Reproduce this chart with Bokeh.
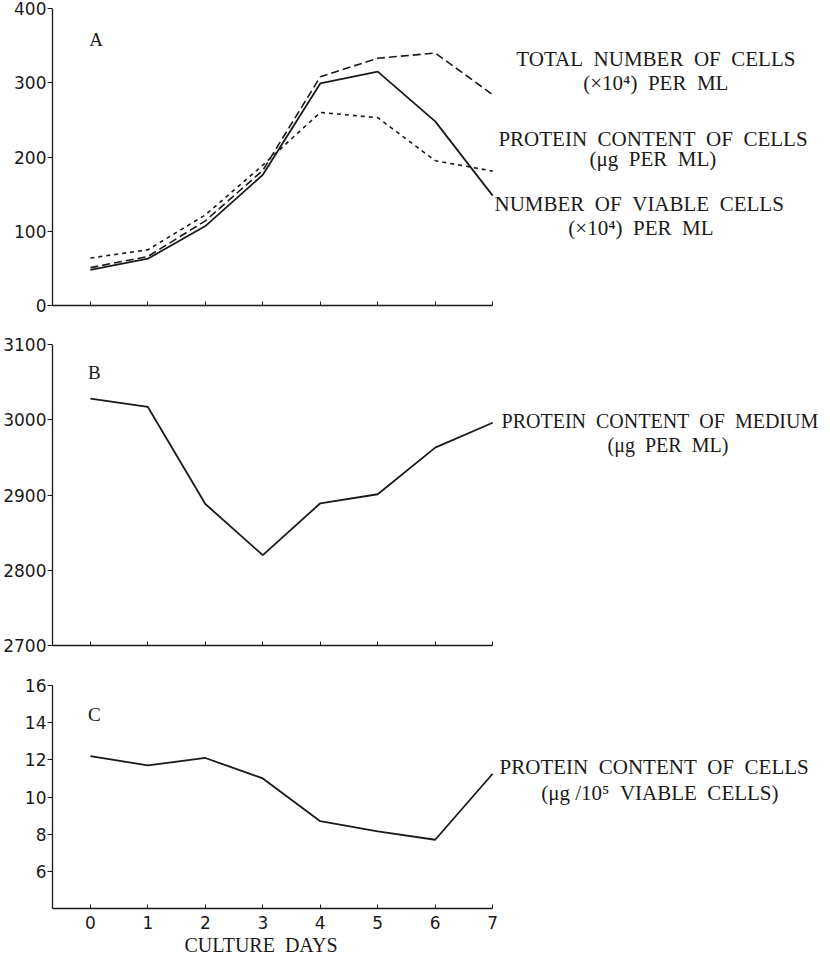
from bokeh.plotting import figure
from bokeh.models import Range1d, FixedTicker, Title
from bokeh.layouts import column
from bokeh.core.properties import value
from bokeh.embed import file_html
from bokeh.resources import INLINE

# ---- data ----
days = [0, 1, 2, 3, 4, 5, 6, 7]
total_cells = [51, 66, 114, 182, 308, 333, 340, 284]
protein_cells = [64, 75, 122, 189, 260, 253, 195, 181]
viable_cells = [48, 63, 107, 176, 299, 315, 248, 148]
protein_medium = [3028, 3017, 2888, 2820, 2889, 2901, 2963, 2996]
protein_per_cell = [12.2, 11.7, 12.1, 11.0, 8.7, 8.15, 7.7, 11.25]

ticks_a = [0, 100, 200, 300, 400]
ticks_b = [2700, 2800, 2900, 3000, 3100]
ticks_c = [6, 8, 10, 12, 14, 16]

INK = "#1a1a1a"
SERIF = "Liberation Serif"
SANS = "DejaVu Sans"
XR = (-0.66, 12.74)
SP = "\u2002"  # wide word gap as in the original typesetting


def base(height, yr, yticks, top, bottom, show_x_labels=False):
    p = figure(width=822, height=height, x_range=Range1d(*XR), y_range=Range1d(*yr),
               output_backend="svg", toolbar_location=None,
               min_border_left=50, min_border_right=0,
               min_border_top=top, min_border_bottom=bottom)
    p.outline_line_color = None
    p.xgrid.visible = False
    p.ygrid.visible = False
    p.background_fill_color = "white"
    p.border_fill_color = "white"
    p.xaxis.ticker = FixedTicker(ticks=days)
    p.xaxis.bounds = (XR[0], 7)
    p.xaxis.major_tick_in = 4
    p.xaxis.major_tick_out = 0
    p.xaxis.minor_tick_line_color = None
    p.xaxis.axis_line_color = INK
    p.xaxis.axis_line_width = 1.3
    p.xaxis.major_tick_line_color = INK
    p.xaxis.major_label_text_font = SANS
    p.xaxis.major_label_text_color = INK
    if show_x_labels:
        p.xaxis.major_label_text_font_size = "17px"
        p.xaxis.major_label_standoff = 7
    else:
        p.xaxis.major_label_overrides = {d: "" for d in days}
        p.xaxis.major_label_text_font_size = "10px"
        p.xaxis.major_label_standoff = 0
    p.yaxis.ticker = FixedTicker(ticks=yticks)
    p.yaxis.major_tick_in = 0
    p.yaxis.major_tick_out = 5
    p.yaxis.minor_tick_line_color = None
    p.yaxis.axis_line_color = INK
    p.yaxis.axis_line_width = 1.3
    p.yaxis.major_tick_line_color = INK
    p.yaxis.major_label_text_font = SANS
    p.yaxis.major_label_text_font_size = "17px"
    p.yaxis.major_label_text_color = INK
    p.yaxis.major_label_standoff = 1
    return p


def texts(p, xs, ys, labels, size="21px"):
    p.text(x=xs, y=ys, text=labels, text_font=value(SERIF), text_font_size=size,
           text_align="center", text_baseline="middle", text_color=INK)


def w(s):
    return s.replace(" ", SP)


# ---- Panel A ----
pa = base(332, (0, 400), ticks_a, 16, 19)
pa.line(days, total_cells, line_color=INK, line_width=1.6, line_dash="8 4")
pa.line(days, protein_cells, line_color=INK, line_width=1.6, line_dash="4 4")
pa.line(days, viable_cells, line_color=INK, line_width=1.8)
texts(pa, [0.1], [358], ["A"], size="19px")
a_lbl_x = [9.84, 9.84, 9.79, 9.79, 9.55, 9.58]
a_lbl_y = [332, 299, 224, 197, 137, 104]
a_lbl_t = [w("TOTAL NUMBER OF CELLS"), w("(\u00d710\u2074) PER ML"),
           w("PROTEIN CONTENT OF CELLS"), w("(\u03bcg PER ML)"),
           w("NUMBER OF VIABLE CELLS"), w("(\u00d710\u2074) PER ML")]
texts(pa, a_lbl_x, a_lbl_y, a_lbl_t)

# ---- Panel B ----
pb = base(341, (2700, 3100), ticks_b, 20, 20)
pb.line(days, protein_medium, line_color=INK, line_width=1.8)
texts(pb, [0.07], [3063], ["B"], size="19px")
texts(pb, [9.91, 10.05], [2999, 2967],
      [w("PROTEIN CONTENT OF MEDIUM"), w("(\u03bcg PER ML)")], size="20px")

# ---- Panel C ----
pc = base(294, (4, 16), ticks_c, 20, 51, show_x_labels=True)
pc.line(days, protein_per_cell, line_color=INK, line_width=1.8)
texts(pc, [0.07], [14.44], ["C"], size="19px")
texts(pc, [9.81, 9.91], [11.59, 10.24],
      [w("PROTEIN CONTENT OF CELLS"), "(\u03bcg /10\u2075" + SP + "VIABLE" + SP + "CELLS)"])
pc.add_layout(Title(text=w("CULTURE DAYS"), align="left", offset=132, standoff=1,
                    text_font=SERIF, text_font_size="20px", text_font_style="normal",
                    text_color=INK), "below")

layout = column(pa, pb, pc, spacing=0,
                styles={"margin-top": "-8px", "margin-bottom": "-8px"})
open("out.html", "w").write(file_html(layout, INLINE))
